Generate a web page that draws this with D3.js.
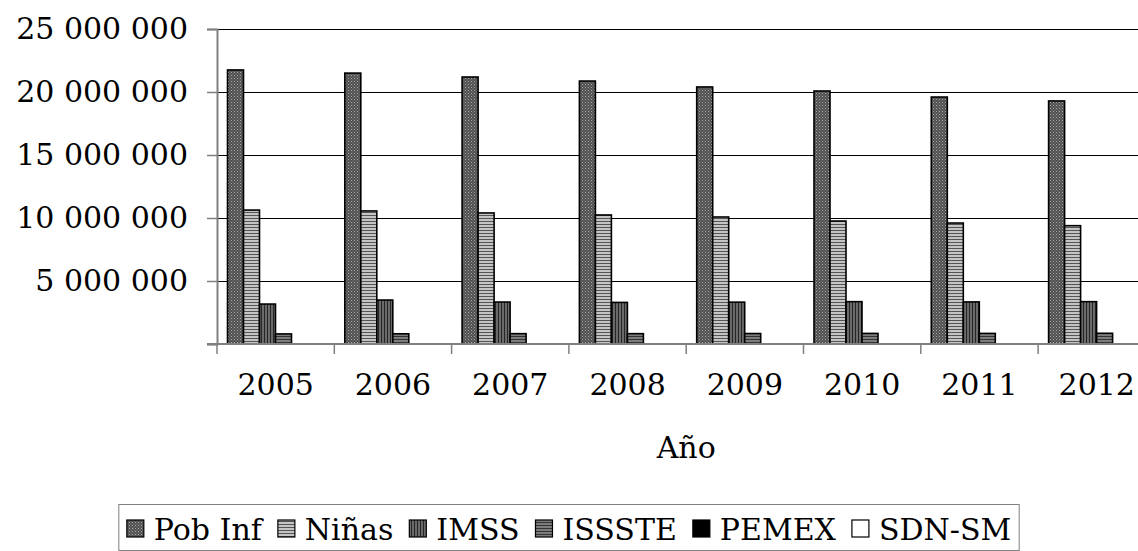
<!DOCTYPE html>
<html>
<head>
<meta charset="utf-8">
<script src="https://cdn.jsdelivr.net/npm/d3@7"></script>
<style>
  html, body { margin: 0; padding: 0; background: #fff; }
  svg { display: block; font-family: "DejaVu Serif", "Liberation Serif", serif; }
</style>
</head>
<body>
<svg id="chart" width="1138" height="551"></svg>
<script>
// ── Data ──
const years   = ["2005", "2006", "2007", "2008", "2009", "2010", "2011", "2012"];
const series  = ["Pob Inf", "Niñas", "IMSS", "ISSSTE", "PEMEX", "SDN-SM"];
const pobInf  = [21750000, 21500000, 21190000, 20870000, 20400000, 20080000, 19600000, 19290000];
const ninas   = [10630000, 10560000, 10400000, 10240000, 10080000, 9760000, 9600000, 9390000];
const imss    = [3170000, 3490000, 3330000, 3300000, 3320000, 3360000, 3340000, 3360000];
const issste  = [800000, 810000, 820000, 820000, 830000, 840000, 840000, 850000];
const pemex   = [0, 0, 0, 0, 0, 0, 0, 0];
const sdnsm   = [0, 0, 0, 0, 0, 0, 0, 0];
const yTicks  = [0, 5000000, 10000000, 15000000, 20000000, 25000000];
const xTitle  = "Año";

const values = [pobInf, ninas, imss, issste, pemex, sdnsm];
const fills  = ["url(#p-pob)", "url(#p-ninas)", "url(#p-imss)", "url(#p-issste)", "#000", "#fff"];

const LEFT = 217, RIGHT = 1155.4, TOP = 29, BOTTOM = 344;

const svg = d3.select("#chart");

// ── Fill patterns ──
const defs = svg.append("defs");
function pattern(id, w, h, base, marks) {
  const p = defs.append("pattern").attr("id", id)
    .attr("patternUnits", "userSpaceOnUse").attr("width", w).attr("height", h);
  p.append("rect").attr("width", w).attr("height", h).attr("fill", base);
  marks.forEach(m => p.append("rect")
    .attr("x", m[0]).attr("y", m[1]).attr("width", m[2]).attr("height", m[3]).attr("fill", m[4]));
}
pattern("p-pob", 3, 3, "#505050", [[0, 0, 1, 1, "#a8a8a8"], [1.5, 1.5, 1, 1, "#8a8a8a"]]);
pattern("p-ninas", 4, 3, "#c4c4c4", [[0, 2, 4, 1, "#555"]]);
pattern("p-imss", 3, 4, "#6a6a6a", [[0, 0, 1, 4, "#262626"]]);
pattern("p-issste", 4, 3, "#7c7c7c", [[0, 0, 4, 1, "#333"]]);

// ── Scales ──
const x0 = d3.scaleBand().domain(years).range([LEFT, RIGHT]);
const x1 = d3.scaleBand().domain(series).range([10.5, 106.5]);
const y  = d3.scaleLinear().domain([0, 25000000]).range([BOTTOM, TOP]);

// ── Gridlines ──
svg.append("g").selectAll("line")
  .data(yTicks.filter(d => d > 0))
  .join("line")
  .attr("x1", LEFT).attr("x2", 1138)
  .attr("y1", d => Math.round(y(d)) + 0.5).attr("y2", d => Math.round(y(d)) + 0.5)
  .attr("stroke", "#000").attr("stroke-width", 1);

// ── Bars ──
series.forEach((s, si) => {
  svg.append("g").selectAll("rect")
    .data(years.map((yr, i) => ({ yr, v: values[si][i] })).filter(d => d.v > 0))
    .join("rect")
    .attr("x", d => x0(d.yr) + x1(s))
    .attr("y", d => y(d.v))
    .attr("width", x1.bandwidth())
    .attr("height", d => BOTTOM - y(d.v))
    .attr("fill", fills[si])
    .attr("stroke", "#000")
    .attr("stroke-width", 1.6);
});

// ── Y axis ──
const yAxis = svg.append("g")
  .attr("transform", `translate(${LEFT},0)`)
  .call(d3.axisLeft(y).tickValues(yTicks).tickSize(10).tickPadding(19)
    .tickFormat(d => d === 0 ? "" : d3.format(",")(d).replace(/,/g, " ")));
yAxis.select(".domain").attr("stroke", "#808080").attr("stroke-width", 2);
yAxis.selectAll(".tick line").attr("stroke", "#808080").attr("stroke-width", 1.5);
yAxis.selectAll(".tick text")
  .attr("font-family", "DejaVu Serif").attr("font-size", "30px").attr("fill", "#000");

// ── X axis ──
const xAxis = svg.append("g")
  .attr("transform", `translate(0,${BOTTOM})`)
  .call(d3.axisBottom(x0).tickSize(0).tickPadding(30));
xAxis.select(".domain").attr("stroke", "#808080").attr("stroke-width", 2)
  .attr("d", `M${LEFT - 10},0H1138`);
xAxis.selectAll(".tick text")
  .attr("font-family", "DejaVu Serif").attr("font-size", "30px").attr("fill", "#000");

// category boundary ticks
svg.append("g").selectAll("line")
  .data(years)
  .join("line")
  .attr("x1", d => x0(d)).attr("x2", d => x0(d))
  .attr("y1", BOTTOM).attr("y2", BOTTOM + 10)
  .attr("stroke", "#808080").attr("stroke-width", 1.5);

// ── Axis title ──
svg.append("text")
  .attr("x", (LEFT + RIGHT) / 2)
  .attr("y", 458)
  .attr("text-anchor", "middle")
  .attr("font-size", "30px")
  .text(xTitle);

// ── Legend ──
const SQ = 17, GAP_IN = 10, GAP_OUT = 16, PAD = 8;
const legend = svg.append("g");
const box = legend.append("rect")
  .attr("y", 504.5).attr("height", 46)
  .attr("fill", "#fff").attr("stroke", "#808080").attr("stroke-width", 1);

let cx = 0;
const items = [];
series.forEach((s, si) => {
  const sq = legend.append("rect")
    .attr("y", 520).attr("width", SQ).attr("height", SQ)
    .attr("fill", fills[si]).attr("stroke", "#000").attr("stroke-width", 1.2);
  const t = legend.append("text")
    .attr("y", 540).attr("font-size", "30px").text(s);
  const w = t.node().getComputedTextLength();
  items.push({ sq, t, x: cx });
  cx += SQ + GAP_IN + w + (si < series.length - 1 ? GAP_OUT : 0);
});
const total = cx + PAD * 2;
const left  = 1138 / 2 - total / 2;
box.attr("x", left).attr("width", total);
items.forEach(it => {
  it.sq.attr("x", left + PAD + it.x);
  it.t.attr("x", left + PAD + it.x + SQ + GAP_IN);
});
</script>
</body>
</html>
